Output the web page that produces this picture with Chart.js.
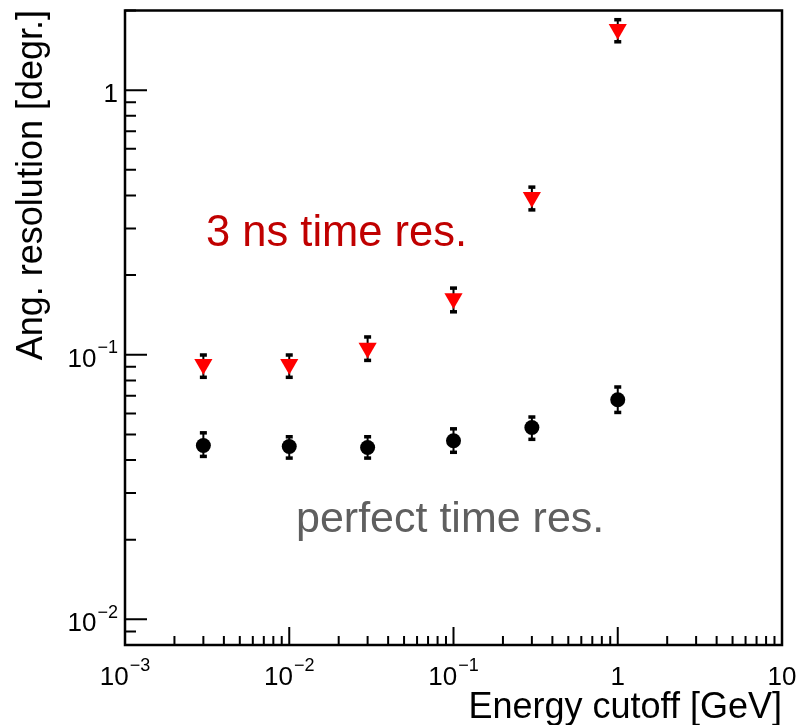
<!DOCTYPE html>
<html>
<head>
<meta charset="utf-8">
<title>Angular resolution vs energy cutoff</title>
<script src="https://cdn.jsdelivr.net/npm/chart.js@4.4.1/dist/chart.umd.min.js"></script>
<style>
  html, body { margin: 0; padding: 0; background: #fff; }
  #wrap { width: 798px; height: 725px; }
</style>
</head>
<body>
<div id="wrap"><canvas id="resChart" width="798" height="725"></canvas></div>
<script>
// energy cutoffs [GeV]
const cutoffs = [0.003, 0.01, 0.03, 0.1, 0.3, 1];

// 3 ns time resolution (red triangles)
const res3ns = [0.092, 0.092, 0.106, 0.163, 0.394, 1.70];
const res3nsHi = [0.100, 0.100, 0.117, 0.179, 0.431, 1.85];
const res3nsLo = [0.082, 0.082, 0.095, 0.145, 0.352, 1.52];

// perfect time resolution (black dots)
const resPerfect = [0.0454, 0.0450, 0.0446, 0.0473, 0.0531, 0.0676];
const resPerfectHi = [0.0508, 0.0491, 0.0491, 0.0526, 0.0583, 0.0757];
const resPerfectLo = [0.0412, 0.0406, 0.0406, 0.0427, 0.0478, 0.0604];

// axis decades used for labels
const xDecades = [-3, -2, -1, 0, 1];
const yDecades = [-2, -1, 0];

const X_MIN = 0.001, X_MAX = 10;
const Y_MIN = 0.008, Y_MAX = 2.0;

const FONT = '"Liberation Sans", Arial, Helvetica, sans-serif';

const errors = [
  { lo: res3nsLo, hi: res3nsHi },
  { lo: resPerfectLo, hi: resPerfectHi }
];

function decadeLabel(ctx, exp, x, y, align, size) {
  // ROOT-like 10^n label with a real superscript
  let base, sup = "";
  if (exp === 0) base = "1";
  else if (exp === 1) base = "10";
  else { base = "10"; sup = (exp < 0 ? "\u2212" : "") + Math.abs(exp); }
  const supSize = Math.round(size * 0.7);
  ctx.font = size + "px " + FONT;
  const wb = ctx.measureText(base).width;
  ctx.font = supSize + "px " + FONT;
  const ws = sup ? ctx.measureText(sup).width + 1 : 0;
  const total = wb + ws;
  let left = align === "center" ? x - total / 2 : x - total;
  ctx.textAlign = "left";
  ctx.textBaseline = "alphabetic";
  ctx.font = size + "px " + FONT;
  ctx.fillText(base, left, y);
  if (sup) {
    ctx.font = supSize + "px " + FONT;
    ctx.fillText(sup, left + wb + 1, y - size * 0.52);
  }
}

const errorBars = {
  id: "errorBars",
  beforeDatasetsDraw(chart) {
    const { ctx, scales } = chart;
    ctx.save();
    ctx.strokeStyle = "#000";
    ctx.fillStyle = "#000";
    ctx.lineWidth = 2;
    errors.forEach(({ lo, hi }) => {
      cutoffs.forEach((c, i) => {
        const px = scales.x.getPixelForValue(c);
        const yTop = scales.y.getPixelForValue(hi[i]);
        const yBot = scales.y.getPixelForValue(lo[i]);
        ctx.beginPath();
        ctx.moveTo(px, yTop);
        ctx.lineTo(px, yBot);
        ctx.stroke();
        ctx.fillRect(px - 3.5, yTop - 1.5, 7, 3.5);
        ctx.fillRect(px - 3.5, yBot - 2, 7, 3.5);
      });
    });
    ctx.restore();
  }
};

const rootFrame = {
  id: "rootFrame",
  afterDraw(chart) {
    const { ctx, chartArea: a, scales } = chart;
    ctx.save();
    ctx.strokeStyle = "#000";
    ctx.fillStyle = "#000";
    ctx.lineWidth = 2.5;
    ctx.strokeRect(a.left, a.top, a.right - a.left, a.bottom - a.top);

    // inward ticks
    ctx.lineWidth = 2;
    ctx.beginPath();
    for (let e = -3; e <= 0; e++) {
      for (let m = 1; m <= 9; m++) {
        const v = m * Math.pow(10, e);
        const px = scales.x.getPixelForValue(v);
        const len = m === 1 ? 18 : 9;
        ctx.moveTo(px, a.bottom);
        ctx.lineTo(px, a.bottom - len);
      }
    }
    for (let e = -3; e <= 0; e++) {
      for (let m = 1; m <= 9; m++) {
        const v = m * Math.pow(10, e);
        if (v < Y_MIN || v > Y_MAX) continue;
        const py = scales.y.getPixelForValue(v);
        const len = m === 1 ? 22 : 11;
        ctx.moveTo(a.left, py);
        ctx.lineTo(a.left + len, py);
      }
    }
    ctx.stroke();

    // tick labels
    xDecades.forEach(e => {
      decadeLabel(ctx, e, scales.x.getPixelForValue(Math.pow(10, e)), 685, "center", 26);
    });
    yDecades.forEach(e => {
      decadeLabel(ctx, e, 118, scales.y.getPixelForValue(Math.pow(10, e)) + 12, "right", 26);
    });

    // axis titles
    ctx.font = "36px " + FONT;
    ctx.textAlign = "right";
    ctx.textBaseline = "alphabetic";
    ctx.fillText("Energy cutoff [GeV]", a.right, 718);

    ctx.save();
    ctx.translate(42, 10);
    ctx.rotate(-Math.PI / 2);
    ctx.font = "36px " + FONT;
    ctx.fillText("Ang. resolution [degr.]", 0, 0);
    ctx.restore();

    // annotations
    ctx.textAlign = "left";
    ctx.font = "43.5px " + FONT;
    ctx.fillStyle = "#c00000";
    ctx.fillText("3 ns time res.", 206, 246);
    ctx.fillStyle = "#5f5f5f";
    ctx.font = "43px " + FONT;
    ctx.fillText("perfect time res.", 296, 532);
    ctx.restore();
  }
};

new Chart(document.getElementById("resChart"), {
  type: "scatter",
  data: {
    datasets: [
      {
        label: "3 ns time res.",
        data: cutoffs.map((c, i) => ({ x: c, y: res3ns[i] })),
        pointStyle: "triangle",
        rotation: 180,
        pointRadius: 10.5,
        backgroundColor: "#ff0000",
        borderWidth: 0
      },
      {
        label: "perfect time res.",
        data: cutoffs.map((c, i) => ({ x: c, y: resPerfect[i] })),
        pointStyle: "circle",
        pointRadius: 7.5,
        backgroundColor: "#000000",
        borderWidth: 0
      }
    ]
  },
  options: {
    responsive: false,
    animation: false,
    layout: { padding: { left: 125, top: 10, right: 16, bottom: 80 } },
    scales: {
      x: { type: "logarithmic", min: X_MIN, max: X_MAX, display: false },
      y: { type: "logarithmic", min: Y_MIN, max: Y_MAX, display: false }
    },
    plugins: {
      legend: { display: false },
      tooltip: { enabled: false }
    }
  },
  plugins: [errorBars, rootFrame]
});
</script>
</body>
</html>
